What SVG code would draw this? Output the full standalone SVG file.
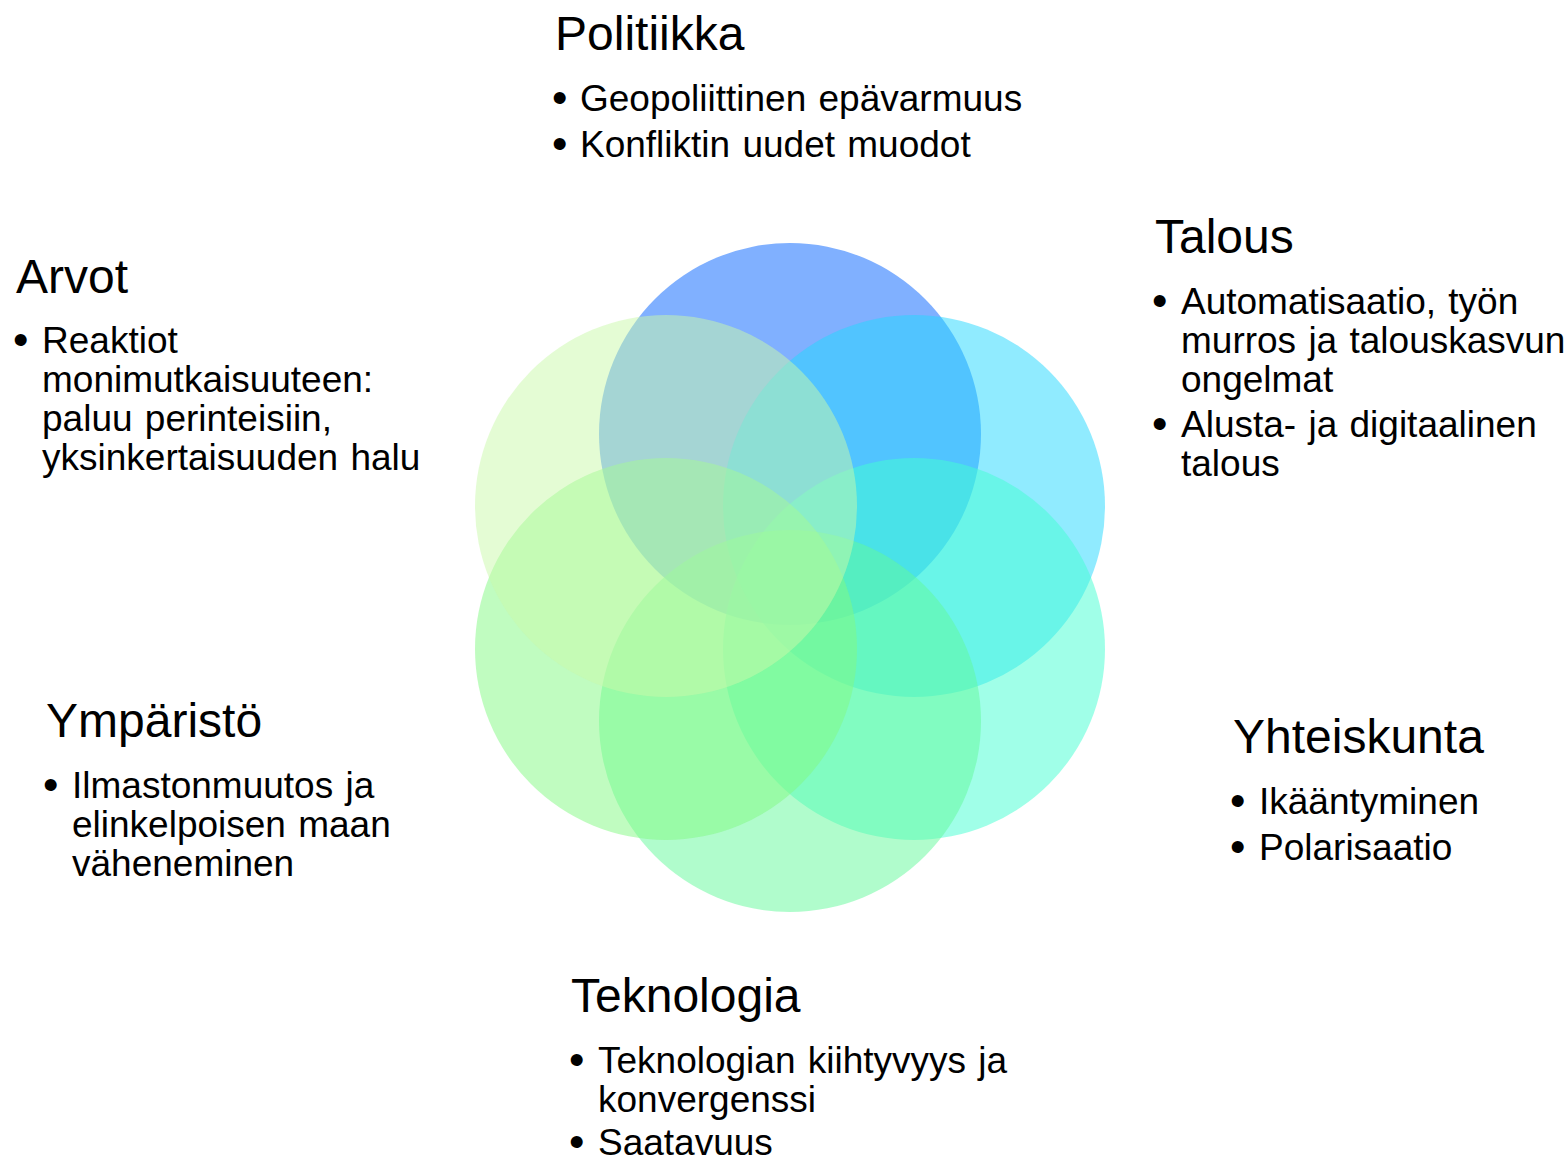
<svg xmlns="http://www.w3.org/2000/svg" width="1567" height="1158" viewBox="0 0 1567 1158">
<style>
text{font-family:"Liberation Sans",Arial,sans-serif;fill:#000}
.t{font-size:48px}
.b{font-size:37px;word-spacing:2px}
.d{font-size:44px}
circle{fill-opacity:0.5}
</style>
<rect width="1567" height="1158" fill="#fff"/>
<g id="circles">
<circle id="c-politiikka" cx="790" cy="434" r="191" fill="#0161FF"/>
<circle id="c-talous" cx="914" cy="506" r="191" fill="#21D7FF"/>
<circle id="c-yhteiskunta" cx="914" cy="649" r="191" fill="#41FFD1"/>
<circle id="c-teknologia" cx="790" cy="721" r="191" fill="#61F999"/>
<circle id="c-ymparisto" cx="666" cy="649" r="191" fill="#81F981"/>
<circle id="c-arvot" cx="666" cy="506" r="191" fill="#C9F9A9"/>
</g>
<g id="politiikka">
<text class="t" x="555" y="50">Politiikka</text>
<text class="d" x="552" y="113">•</text><text class="b" x="580" y="111">Geopoliittinen epävarmuus</text>
<text class="d" x="552" y="159">•</text><text class="b" x="580" y="157">Konfliktin uudet muodot</text>
</g>
<g id="talous">
<text class="t" x="1155" y="253">Talous</text>
<text class="d" x="1152" y="316">•</text><text class="b" x="1181" y="314">Automatisaatio, työn</text>
<text class="b" x="1181" y="353">murros ja talouskasvun</text>
<text class="b" x="1181" y="392">ongelmat</text>
<text class="d" x="1152" y="439">•</text><text class="b" x="1181" y="437">Alusta- ja digitaalinen</text>
<text class="b" x="1181" y="476">talous</text>
</g>
<g id="arvot">
<text class="t" x="16" y="293">Arvot</text>
<text class="d" x="13" y="355">•</text><text class="b" x="42" y="353">Reaktiot</text>
<text class="b" x="42" y="392">monimutkaisuuteen:</text>
<text class="b" x="42" y="431">paluu perinteisiin,</text>
<text class="b" x="42" y="470">yksinkertaisuuden halu</text>
</g>
<g id="ymparisto">
<text class="t" x="46" y="737">Ympäristö</text>
<text class="d" x="43" y="800">•</text><text class="b" x="72" y="798">Ilmastonmuutos ja</text>
<text class="b" x="72" y="837">elinkelpoisen maan</text>
<text class="b" x="72" y="876">väheneminen</text>
</g>
<g id="yhteiskunta">
<text class="t" x="1233" y="753">Yhteiskunta</text>
<text class="d" x="1230" y="816">•</text><text class="b" x="1259" y="814">Ikääntyminen</text>
<text class="d" x="1230" y="862">•</text><text class="b" x="1259" y="860">Polarisaatio</text>
</g>
<g id="teknologia">
<text class="t" x="571" y="1012">Teknologia</text>
<text class="d" x="569" y="1075">•</text><text class="b" x="598" y="1073">Teknologian kiihtyvyys ja</text>
<text class="b" x="598" y="1112">konvergenssi</text>
<text class="d" x="569" y="1157">•</text><text class="b" x="598" y="1155">Saatavuus</text>
</g>
</svg>
